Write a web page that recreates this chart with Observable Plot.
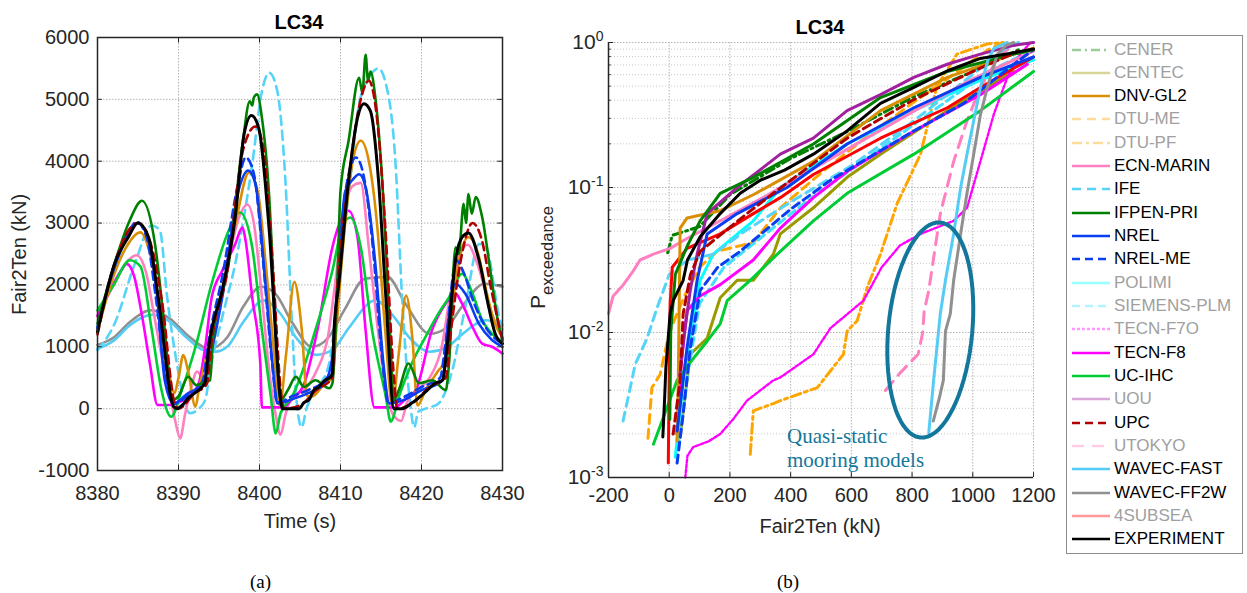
<!DOCTYPE html>
<html><head><meta charset="utf-8">
<script src="https://cdn.jsdelivr.net/npm/d3@7"></script>
<script src="https://cdn.jsdelivr.net/npm/@observablehq/plot@0.6"></script>
<style>
body{margin:0;background:#fff;width:1247px;height:593px;position:relative;overflow:hidden;font-family:"Liberation Sans",Arial,sans-serif;color:#262626;}
.abs{position:absolute;white-space:nowrap;}
.title{font-weight:bold;font-size:20px;line-height:24px;color:#000;text-align:center;width:200px;}
.alab{font-size:20px;line-height:24px;text-align:center;width:240px;}
.cap{font-family:"Liberation Serif","Times New Roman",serif;font-size:19px;line-height:24px;color:#000;}
#legend{left:1066px;top:35px;width:177px;height:519px;border:1.5px solid #8c8c8c;box-sizing:border-box;background:#fff;}
.lrow{position:absolute;left:0;height:22px;display:flex;align-items:center;font-size:17px;line-height:22px;}
.lrow svg{display:block;}
</style></head><body>
<div id="left" class="abs" style="left:0;top:0"></div>
<div id="right" class="abs" style="left:520px;top:0"></div>
<div class="abs title" style="left:199px;top:10px">LC34</div>
<div class="abs title" style="left:720px;top:15px">LC34</div>
<div class="abs alab" style="left:180px;top:509px">Time (s)</div>
<div class="abs alab" style="left:700px;top:514px">Fair2Ten (kN)</div>
<div class="abs" style="left:7px;top:315px;font-size:20px;line-height:24px;transform-origin:0 0;transform:rotate(-90deg)">Fair2Ten (kN)</div>
<div class="abs" style="left:526px;top:309px;font-size:21px;line-height:24px;transform-origin:0 0;transform:rotate(-90deg)">P<span style="font-size:16.5px;position:relative;top:8px">exceedance</span></div>
<div class="abs cap" style="left:250px;top:570px">(a)</div>
<div class="abs cap" style="left:777px;top:570px">(b)</div>
<div id="legend" class="abs"></div>
<script>
// ---------- tick labels ----------
const xTicksA = [8380, 8390, 8400, 8410, 8420, 8430];
const yTicksA = [-1000, 0, 1000, 2000, 3000, 4000, 5000, 6000];
const xTicksB = [-200, 0, 200, 400, 600, 800, 1000, 1200];
const yMajorB = [0.001, 0.01, 0.1, 1];
const yMinorB = [0.002,0.003,0.004,0.005,0.006,0.007,0.008,0.009,0.02,0.03,0.04,0.05,0.06,0.07,0.08,0.09,0.2,0.3,0.4,0.5,0.6,0.7,0.8,0.9];

// ---------- legend categories ----------
const legendOrder = ["CENER","CENTEC","DNV-GL2","DTU-ME","DTU-PF","ECN-MARIN","IFE","IFPEN-PRI","NREL","NREL-ME","POLIMI","SIEMENS-PLM","TECN-F7O","TECN-F8","UC-IHC","UOU","UPC","UTOKYO","WAVEC-FAST","WAVEC-FF2W","4SUBSEA","EXPERIMENT"];
const activeA = ["WAVEC-FF2W","WAVEC-FAST","IFE","ECN-MARIN","TECN-F8","UC-IHC","DNV-GL2","NREL","NREL-ME","IFPEN-PRI","UPC","EXPERIMENT"];
const orderB = ["CENER","CENTEC","DTU-ME","DTU-PF","POLIMI","SIEMENS-PLM","TECN-F7O","UTOKYO","IFE","ECN-MARIN","TECN-F8","UC-IHC","4SUBSEA","DNV-GL2","NREL","NREL-ME","UOU","IFPEN-PRI","UPC","WAVEC-FAST","WAVEC-FF2W","EXPERIMENT"];

// ---------- (a) time series: [time s, Fair2Ten kN] ----------
const tsEXPERIMENT = [[8380,1240],[8382.1,2340],[8383.8,2770],[8385,3000],[8386.3,2770],[8387.5,1800],[8389.4,30],[8389.8,0],[8390.5,60],[8391.2,170],[8392,250],[8392.9,350],[8393.3,435],[8393.7,945],[8395.4,1910],[8397,3090],[8398.1,4440],[8399,4740],[8399.9,4540],[8401.2,2880],[8402.6,140],[8402.8,0],[8404.9,0],[8405.5,100],[8406.1,140],[8406.7,300],[8407.3,350],[8408,450],[8408.8,515],[8409,570],[8409.2,1270],[8409.8,2020],[8411,3680],[8412.1,4700],[8412.9,4930],[8413.7,4810],[8414.7,3680],[8415.6,1800],[8416.6,0],[8417.6,0],[8418.8,90],[8420.5,270],[8421.7,410],[8422.6,460],[8423.2,1050],[8424.2,2400],[8425,2770],[8425.8,2840],[8427.1,2400],[8428.3,1640],[8429.1,1210],[8430,1050]];
const tsIFPENPRI = [[8380,1375],[8382,2300],[8384,3050],[8385.5,3360],[8387.1,2660],[8388.3,1270],[8389.2,140],[8390,200],[8391.2,515],[8392.2,380],[8392.9,410],[8393.9,460],[8394.3,1200],[8396.2,2340],[8397.9,4270],[8398.8,4970],[8399.1,4900],[8399.3,5030],[8399.7,5080],[8400.3,4700],[8401.2,3420],[8402,1270],[8402.6,140],[8403.5,300],[8404.5,515],[8405.5,350],[8406.9,460],[8408.6,330],[8409,410],[8409.5,1600],[8410,3520],[8411,4330],[8412.3,5350],[8412.7,5100],[8413.1,5720],[8413.4,5300],[8413.7,5450],[8414.3,5030],[8415.1,3790],[8416,1540],[8416.6,140],[8417.2,300],[8418.4,730],[8419.7,410],[8421.3,460],[8423,300],[8423.4,730],[8424.2,2610],[8424.6,2500],[8425.2,3310],[8425.5,3000],[8425.8,3470],[8426.2,3150],[8426.7,3420],[8427.5,3090],[8428.5,2230],[8429.5,1370],[8430,1110]];
const tsUPC = [[8380,1200],[8382,2300],[8385,3000],[8386.5,2700],[8388,1700],[8389.5,100],[8390,0],[8392,250],[8393.5,400],[8394,1000],[8396,2200],[8398,4200],[8399.5,4560],[8400.5,4200],[8401.5,2600],[8402.8,100],[8403,0],[8405,50],[8407,300],[8409,500],[8409.3,1300],[8411,3700],[8412.5,5000],[8413.5,5300],[8414.5,4700],[8415.5,3000],[8416.6,500],[8417,0],[8419,100],[8421,350],[8423,500],[8423.5,1100],[8425,2500],[8426.3,3000],[8427.5,2700],[8428.5,2000],[8430,1100]];
const tsDNVGL2 = [[8380,1250],[8382,2150],[8383.5,2600],[8385.3,2850],[8386.5,2500],[8388,1400],[8389.5,250],[8390,500],[8390.6,865],[8391.2,600],[8392.1,30],[8392.5,300],[8393.2,700],[8393.8,1000],[8395.5,1950],[8397.2,3100],[8398.7,3820],[8399.8,3500],[8400.8,2300],[8401.8,900],[8402.5,50],[8403.3,900],[8404.3,2050],[8405.2,1300],[8405.9,200],[8406.5,200],[8408,400],[8409,500],[8409.5,1300],[8410.5,2900],[8411.5,4000],[8412.5,4330],[8413.5,4000],[8414.5,3000],[8415.5,1300],[8416.4,50],[8417.2,900],[8418.1,1830],[8418.9,1100],[8419.5,50],[8420.5,300],[8422,600],[8423,800],[8423.5,1300],[8424.5,2300],[8425.8,2770],[8427,2500],[8428,1900],[8429,1400],[8430,1150]];
const tsNREL = [[8380,1320],[8382,2250],[8383.8,2800],[8385,3010],[8386.2,2750],[8387.3,1900],[8388.3,460],[8389.4,85],[8391.2,250],[8392.5,350],[8393.2,500],[8393.7,730],[8395.4,1800],[8397.4,3520],[8398.6,3850],[8399.5,3630],[8400.7,2070],[8401.6,730],[8402.2,85],[8404,150],[8406,250],[8408,400],[8409,840],[8409.6,2000],[8410.6,3520],[8411.5,3700],[8412.3,3790],[8413.1,3580],[8414.3,2340],[8415.3,730],[8416,85],[8418,150],[8420,300],[8422,400],[8422.6,460],[8423.2,1270],[8424.2,2020],[8425.4,1860],[8427.1,1370],[8428.7,1110],[8430,1000]];
const tsNRELME = [[8380,1300],[8382,2300],[8384,2900],[8384.8,3020],[8386,2800],[8387.2,1800],[8388.5,400],[8389.5,80],[8391,200],[8393,450],[8393.6,1000],[8395.5,2200],[8397.3,3600],[8398.3,4060],[8399.3,3800],[8400.5,2300],[8401.5,800],[8402.2,100],[8404,200],[8406,300],[8408,450],[8409,700],[8409.5,1700],[8410.6,3500],[8411.9,4060],[8412.8,3800],[8414,2600],[8415,1000],[8415.9,100],[8418,200],[8420,350],[8422.3,500],[8423,1100],[8424.3,2400],[8425.2,2200],[8426.5,1700],[8428,1300],[8430,1050]];
const tsIFE = [[8380,945],[8382.1,1370],[8384.6,2340],[8386.7,2960],[8387.7,2880],[8388.6,1800],[8389.8,730],[8390.8,85],[8391.4,-75],[8392.5,0],[8393.3,140],[8393.9,620],[8395.4,1480],[8397,2340],[8399.1,3950],[8400.3,5130],[8401.2,5430],[8402.2,5130],[8403.2,3680],[8404,1400],[8404.6,100],[8405.2,-300],[8405.8,0],[8407,300],[8408.6,730],[8410,2340],[8411.2,3700],[8412.3,4920],[8413.5,5350],[8414.7,5500],[8415.5,5300],[8416.8,3950],[8417.6,1800],[8418.6,85],[8419.1,-300],[8419.6,-50],[8420.5,0],[8422.1,85],[8423.8,620],[8425.4,1640],[8427.1,2660],[8428,2600],[8429.5,1540],[8430,1270]];
const tsECNMARIN = [[8380,1500],[8382,2000],[8383.5,2350],[8384.8,2480],[8386,2200],[8387,1500],[8388,800],[8389,200],[8389.6,-200],[8390.2,-480],[8390.8,-100],[8391.5,300],[8392.3,600],[8393,500],[8393.5,700],[8394.5,1400],[8396,2300],[8397.5,3100],[8398.5,3300],[8399.3,3000],[8400.3,1800],[8401.3,500],[8402,-100],[8402.6,-420],[8403.2,-100],[8404,200],[8405.5,300],[8407,600],[8408.5,1200],[8409.5,2200],[8410.5,3200],[8411.5,3600],[8412.5,3650],[8413.5,2600],[8414.5,1400],[8415.5,400],[8416.5,-100],[8417.5,-200],[8418.2,100],[8419.5,300],[8421,500],[8422.5,1000],[8423.5,1800],[8424.5,2400],[8425.7,2650],[8427,2300],[8428.5,1600],[8430,1150]];
const tsTECNF8 = [[8380,1500],[8381.5,1900],[8383,2250],[8383.6,2340],[8384.5,2150],[8385.5,1500],[8386.5,700],[8387.4,60],[8389,60],[8390,100],[8391.2,190],[8392.5,410],[8393.3,1000],[8394.1,1800],[8395.4,2230],[8397,2660],[8397.9,2930],[8398.3,2700],[8399.1,1800],[8400.1,730],[8400.3,20],[8402.9,20],[8404,150],[8405.5,400],[8407.3,1370],[8409,2610],[8410.2,3090],[8411,3200],[8412.1,2770],[8413.1,1270],[8414.2,20],[8416.7,20],[8418,150],[8419.3,300],[8421.3,1270],[8423,1700],[8424.2,1860],[8425,1700],[8426.3,1320],[8427.5,1050],[8428.7,1000],[8430,890]];
const tsUCIHC = [[8380,1590],[8382,2000],[8384,2400],[8385.3,2300],[8386.7,1270],[8387.9,300],[8389.1,-130],[8390.4,300],[8392.1,1000],[8394.1,2020],[8396.2,2880],[8397.6,3170],[8399.1,2610],[8400.3,1270],[8401.4,190],[8402,-400],[8402.6,-75],[8404,190],[8404.9,460],[8406.9,1270],[8409,2230],[8410.2,2930],[8411.2,3090],[8412.5,2610],[8413.9,1270],[8415.6,190],[8416.2,-210],[8417.2,190],[8418.8,730],[8420.5,1160],[8422.1,1540],[8423.4,1800],[8425,2180],[8426.3,1860],[8427.5,1430],[8428.7,1210],[8430,1080]];
const tsWAVECFAST = [[8380,970],[8382,1100],[8384,1350],[8386.8,1520],[8389,1400],[8391,1150],[8393,950],[8394.5,920],[8396,1000],[8398,1400],[8400.5,1750],[8402.5,1550],[8404.5,1150],[8407,870],[8409,950],[8411,1300],[8414.3,1750],[8416.5,1500],[8418.5,1150],[8421,920],[8423,980],[8425,1200],[8427.9,1430],[8430,1350]];
const tsWAVECFF2W = [[8380,1030],[8382,1150],[8384,1400],[8386.6,1590],[8389,1450],[8391,1200],[8393.8,970],[8396,1150],[8398,1650],[8400.2,1970],[8402,1850],[8404,1400],[8406.5,1000],[8408.5,1150],[8410.5,1600],[8413,2100],[8415.8,2130],[8418,1700],[8421,1210],[8423,1300],[8425,1650],[8427.8,2020],[8430,1970]];

// ---------- (b) exceedance: [Fair2Ten kN, log10 P] ----------
const exEXPERIMENT = [[-21,-2.72],[-15,-2.45],[-11,-2.24],[3,-1.87],[13,-1.78],[46,-1.64],[60,-1.5],[102,-1.34],[168,-1.18],[234,-1.04],[300,-0.95],[380,-0.88],[475,-0.77],[586,-0.61],[696,-0.42],[806,-0.31],[917,-0.195],[1025,-0.11],[1135,-0.07],[1200,-0.045]];
const exWAVECFF2W = [[870,-2.61],[890,-2.45],[903,-2.33],[910,-1.99],[926,-1.87],[937,-1.64],[960,-1.32],[980,-1.05],[1003,-0.77],[1025,-0.5],[1048,-0.31],[1081,-0.08],[1110,-0.02],[1135,0]];
const exWAVECFAST = [[855,-2.69],[871,-2.33],[893,-1.87],[910,-1.64],[937,-1.32],[960,-1.0],[981,-0.77],[1025,-0.31],[1050,-0.12],[1070,-0.04],[1114,0]];
const exUTOKYO = [[712,-2.4],[760,-2.28],[820,-2.15],[835,-2.0],[840,-1.85],[855,-1.71],[870,-1.5],[893,-1.18],[937,-0.82],[981,-0.54],[1025,-0.31],[1091,-0.08],[1150,0]];
const exTECNF7O = [[53,-3.0],[60,-2.85],[79,-2.79],[130,-2.75],[168,-2.7],[210,-2.6],[256,-2.47],[343,-2.33],[366,-2.31],[475,-2.15],[531,-1.97],[640,-1.78],[700,-1.55],[760,-1.4],[828,-1.32],[937,-1.23],[981,-1.14],[1025,-0.82],[1070,-0.49],[1114,-0.24],[1157,-0.08],[1190,0]];
const exDTUPF = [[267,-2.84],[277,-2.54],[343,-2.49],[366,-2.47],[488,-2.38],[574,-2.15],[586,-1.99],[619,-1.92],[652,-1.69],[696,-1.46],[751,-1.11],[828,-0.77],[882,-0.3],[948,-0.08],[1048,-0.01],[1100,0]];
const exDTUME = [[-70,-2.73],[-57,-2.38],[-30,-2.29],[0,-2.0],[50,-1.75],[100,-1.55],[158,-1.44],[277,-1.38],[366,-1.14],[500,-0.9],[650,-0.65],[800,-0.42],[950,-0.2],[1050,-0.05],[1100,0]];
const exIFE = [[-152,-2.61],[-112,-2.22],[-73,-2.04],[-40,-1.83],[0,-1.6],[60,-1.5],[145,-1.46],[250,-1.3],[400,-1.1],[600,-0.85],[800,-0.55],[1000,-0.22],[1100,-0.05],[1150,0]];
const exECNMARIN = [[-200,-1.87],[-185,-1.75],[-151,-1.67],[-120,-1.58],[-96,-1.5],[-52,-1.46],[3,-1.42],[60,-1.35],[150,-1.25],[300,-1.08],[450,-0.9],[600,-0.72],[800,-0.48],[1000,-0.25],[1200,-0.06]];
const exIFPENPRI = [[2,-2.6],[5,-2.0],[20,-1.6],[60,-1.4],[102,-1.23],[168,-1.04],[277,-0.93],[475,-0.7],[696,-0.38],[916,-0.2],[1135,-0.08],[1200,-0.05]];
const exUOU = [[35,-2.3],[50,-2.0],[70,-1.7],[92,-1.46],[125,-1.18],[224,-1.0],[366,-0.77],[475,-0.66],[586,-0.47],[696,-0.36],[806,-0.24],[916,-0.15],[1025,-0.08],[1135,-0.02],[1200,0]];
const exUPC = [[13,-2.7],[36,-2.33],[46,-1.87],[70,-1.6],[102,-1.44],[256,-1.18],[343,-1.04],[586,-0.66],[800,-0.4],[1000,-0.2],[1150,-0.06]];
const exDNVGL2 = [[26,-2.75],[30,-2.3],[33,-1.8],[36,-1.28],[59,-1.21],[168,-1.16],[277,-1.05],[475,-0.82],[696,-0.47],[916,-0.24],[1135,-0.08],[1200,-0.04]];
const exNREL = [[26,-2.68],[59,-2.1],[92,-1.64],[125,-1.32],[224,-1.18],[388,-1.0],[586,-0.7],[806,-0.45],[1025,-0.24],[1200,-0.1]];
const exNRELME = [[26,-2.9],[46,-2.56],[70,-2.1],[102,-1.71],[160,-1.55],[234,-1.44],[400,-1.15],[531,-0.95],[806,-0.61],[970,-0.42],[1135,-0.15],[1200,-0.05]];
const exSIEMENSPLM = [[30,-2.8],[60,-2.3],[100,-1.8],[180,-1.55],[300,-1.35],[450,-1.1],[650,-0.8],[850,-0.5],[1050,-0.2],[1200,-0.05]];
const exPOLIMI = [[20,-2.86],[46,-2.33],[102,-1.64],[145,-1.46],[277,-1.23],[366,-1.0],[586,-0.7],[806,-0.47],[1025,-0.26],[1200,-0.12]];
const exTECNF8 = [[25,-2.7],[40,-2.2],[59,-1.85],[100,-1.75],[168,-1.67],[277,-1.5],[366,-1.28],[475,-1.07],[586,-0.89],[806,-0.61],[1025,-0.36],[1180,-0.15]];
const exUCIHC = [[-52,-2.77],[26,-2.33],[79,-2.18],[125,-2.06],[168,-1.94],[191,-1.78],[267,-1.64],[366,-1.44],[475,-1.23],[586,-1.04],[806,-0.77],[1025,-0.47],[1200,-0.2]];
const exCENTEC = [[36,-2.72],[69,-2.15],[125,-2.04],[168,-1.76],[224,-1.64],[277,-1.64],[343,-1.46],[366,-1.32],[475,-1.14],[586,-0.93],[696,-0.77],[916,-0.47],[1135,-0.2]];
const ex4SUBSEA = [[-3,-2.9],[0,-2.3],[3,-1.8],[10,-1.55],[59,-1.42],[168,-1.32],[277,-1.18],[366,-1.07],[475,-0.91],[696,-0.66],[916,-0.45],[1025,-0.31],[1200,-0.1]];
const exCENER = [[-5,-1.45],[10,-1.33],[100,-1.27],[200,-1.05],[400,-0.8],[600,-0.6],[800,-0.38],[1000,-0.2],[1150,-0.05]];

// ---------- annotation (data units) ----------
const noteLines = [{x: 388, p: 0.00194, t: "Quasi-static"}, {x: 388, p: 0.00132, t: "mooring models"}];
const ellipseCenter = [860, 0.0104]; // kN, P
const ellipseRadiiPx = [42, 108];
const ellipseTiltDeg = 5.3;

// ---------- lookup tables built from the arrays ----------
const dataA = {"EXPERIMENT": tsEXPERIMENT, "IFPEN-PRI": tsIFPENPRI, "UPC": tsUPC, "DNV-GL2": tsDNVGL2, "NREL": tsNREL, "NREL-ME": tsNRELME, "IFE": tsIFE, "ECN-MARIN": tsECNMARIN, "TECN-F8": tsTECNF8, "UC-IHC": tsUCIHC, "WAVEC-FAST": tsWAVECFAST, "WAVEC-FF2W": tsWAVECFF2W};
const dataB = {"EXPERIMENT": exEXPERIMENT, "WAVEC-FF2W": exWAVECFF2W, "WAVEC-FAST": exWAVECFAST, "UTOKYO": exUTOKYO, "TECN-F7O": exTECNF7O, "DTU-PF": exDTUPF, "DTU-ME": exDTUME, "IFE": exIFE, "ECN-MARIN": exECNMARIN, "IFPEN-PRI": exIFPENPRI, "UOU": exUOU, "UPC": exUPC, "DNV-GL2": exDNVGL2, "NREL": exNREL, "NREL-ME": exNRELME, "SIEMENS-PLM": exSIEMENSPLM, "POLIMI": exPOLIMI, "TECN-F8": exTECNF8, "UC-IHC": exUCIHC, "CENTEC": exCENTEC, "4SUBSEA": ex4SUBSEA, "CENER": exCENER};

const styles = {
  "CENER": {c: "#008000", dash: "9,4,2,4"},
  "CENTEC": {c: "#999900"},
  "DNV-GL2": {c: "#d98e04"},
  "DTU-ME": {c: "#ffa500", dash: "9,6"},
  "DTU-PF": {c: "#ffa500", dash: "10,4,3,4"},
  "ECN-MARIN": {c: "#ff80c0"},
  "IFE": {c: "#55d4f8", dash: "9,6"},
  "IFPEN-PRI": {c: "#008000"},
  "NREL": {c: "#0a3cf0"},
  "NREL-ME": {c: "#0a3cf0", dash: "8,5"},
  "POLIMI": {c: "#00ffff"},
  "SIEMENS-PLM": {c: "#40e0ff", dash: "8,5"},
  "TECN-F7O": {c: "#ff00ff", dash: "3,2", w: 2.4},
  "TECN-F8": {c: "#ff00ff"},
  "UC-IHC": {c: "#00cc33"},
  "UOU": {c: "#a0209f"},
  "UPC": {c: "#b00000", dash: "8,5"},
  "UTOKYO": {c: "#ff80c0", dash: "12,8"},
  "WAVEC-FAST": {c: "#55ccf5"},
  "WAVEC-FF2W": {c: "#909090"},
  "4SUBSEA": {c: "#ff0000"},
  "EXPERIMENT": {c: "#000000"}
};

const font = "'Liberation Sans', Arial, sans-serif";
const gridMajor = {stroke: "#b4b4b4", strokeDasharray: "1.5,1.5", strokeWidth: 1};
const gridMinor = {stroke: "#c8c8c8", strokeDasharray: "1,2", strokeWidth: 1};
const axisInk = "#262626";

// ---------- (a) ----------
const leftPlot = Plot.plot({
  width: 520, height: 540,
  marginLeft: 97, marginRight: 18, marginTop: 37, marginBottom: 70,
  style: {fontFamily: font, fontSize: "20px", color: axisInk, background: "transparent", overflow: "visible"},
  x: {domain: [8380, 8430], ticks: xTicksA, tickFormat: d => String(d), tickSize: 0, tickPadding: 15, label: null},
  y: {domain: [-1000, 6000], ticks: yTicksA, tickFormat: d => String(d), tickSize: 0, tickPadding: 8, label: null},
  marks: [
    Plot.ruleX(xTicksA, gridMajor),
    Plot.ruleY(yTicksA, gridMajor),
    ...activeA.map(n => Plot.line(dataA[n], {x: d => d[0], y: d => d[1], curve: "monotone-x", stroke: styles[n].c, strokeWidth: n === "EXPERIMENT" ? 3 : 2.6, strokeDasharray: styles[n].dash, strokeLinejoin: "round"})),
    Plot.ruleX(xTicksA, {y1: -1000, y2: -910, stroke: axisInk}),
    Plot.ruleX(xTicksA, {y1: 6000, y2: 5910, stroke: axisInk}),
    Plot.ruleY(yTicksA, {x1: 8380, x2: 8380.6, stroke: axisInk}),
    Plot.ruleY(yTicksA, {x1: 8430, x2: 8429.4, stroke: axisInk}),
    Plot.frame({stroke: axisInk, strokeWidth: 1.5})
  ]
});
document.getElementById("left").appendChild(leftPlot);

// ---------- (b) ----------
const WB = 530, HB = 540, mlB = 88, mrB = 17, mtB = 42, mbB = 63;
const kx = (WB - mlB - mrB) / 1400;   // px per kN
const ky = (HB - mtB - mbB) / 3;      // px per decade
const phi = ellipseTiltDeg * Math.PI / 180;
const ellipsePts = d3.range(0, 73).map(k => {
  const th = 2 * Math.PI * k / 72;
  const a = ellipseRadiiPx[0], b = ellipseRadiiPx[1];
  const dx = a * Math.cos(th) * Math.cos(phi) - b * Math.sin(th) * Math.sin(phi);
  const dy = a * Math.cos(th) * Math.sin(phi) + b * Math.sin(th) * Math.cos(phi);
  return [ellipseCenter[0] + dx / kx, Math.pow(10, Math.log10(ellipseCenter[1]) - dy / ky)];
});

const rightPlot = Plot.plot({
  width: WB, height: HB,
  marginLeft: mlB, marginRight: mrB, marginTop: mtB, marginBottom: mbB,
  style: {fontFamily: font, fontSize: "20px", color: axisInk, background: "transparent", overflow: "visible"},
  x: {domain: [-200, 1200], ticks: xTicksB, tickFormat: d => String(d), tickSize: 0, tickPadding: 10, label: null},
  y: {type: "log", domain: [0.001, 1], ticks: yMajorB, tickFormat: d => "10^" + Math.round(Math.log10(d)), tickSize: 0, tickPadding: 5, label: null},
  marks: [
    Plot.ruleY(yMinorB, gridMinor),
    Plot.ruleY(yMajorB.slice(1), gridMajor),
    Plot.ruleX(xTicksB.slice(1), gridMajor),
    ...orderB.map(n => Plot.line(dataB[n], {x: d => d[0], y: d => Math.pow(10, d[1]), stroke: styles[n].c, strokeWidth: styles[n].w ?? 3, strokeDasharray: styles[n].dash, strokeLinejoin: "round"})),
    Plot.line(ellipsePts, {x: d => d[0], y: d => d[1], stroke: "#13779c", strokeWidth: 4, curve: "linear-closed"}),
    Plot.text(noteLines, {x: "x", y: "p", text: "t", textAnchor: "start", fill: "#13779c", fontSize: 21, fontFamily: "'Liberation Serif', 'Times New Roman', serif"}),
    Plot.ruleX(xTicksB, {y1: 0.001, y2: 0.00108, stroke: axisInk}),
    Plot.ruleY(yMajorB, {x1: -200, x2: -183, stroke: axisInk}),
    Plot.ruleY(yMinorB, {x1: -200, x2: -191, stroke: axisInk}),
    Plot.ruleX([-200], {stroke: axisInk, strokeWidth: 1.5}),
    Plot.ruleY([0.001], {stroke: axisInk, strokeWidth: 1.5})
  ]
});
rightPlot.querySelectorAll("text").forEach(t => {
  const s = t.textContent;
  if (s.startsWith("10^")) {
    t.textContent = "10";
    t.setAttribute("font-size", "21");
    const ts = document.createElementNS("http://www.w3.org/2000/svg", "tspan");
    ts.setAttribute("dy", "-0.6em");
    ts.setAttribute("font-size", "14");
    ts.textContent = s.slice(3);
    t.appendChild(ts);
  }
});
document.getElementById("right").appendChild(rightPlot);

// ---------- legend ----------
const legendBox = document.getElementById("legend");
legendOrder.forEach((name, i) => {
  const active = activeA.includes(name);
  const st = styles[name];
  const col = active ? st.c : d3.interpolateRgb(st.c, "#ffffff")(0.6);
  const row = document.createElement("div");
  row.className = "lrow";
  row.style.top = (13.5 - 11 + i * 23.33) + "px";
  row.innerHTML = `<svg width="47" height="22"><line x1="5" x2="43" y1="11" y2="11" stroke="${col}" stroke-width="2.6" ${st.dash ? `stroke-dasharray="${st.dash}"` : ""}/></svg><span style="color:${active ? "#000" : "#a0a0a0"}">${name}</span>`;
  legendBox.appendChild(row);
});
</script>
</body></html>
